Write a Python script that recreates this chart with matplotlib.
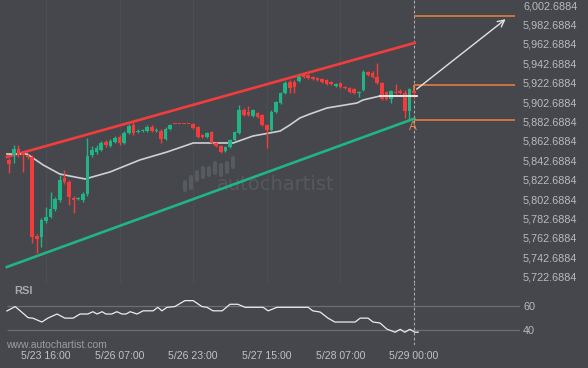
import matplotlib
matplotlib.use('Agg')
import matplotlib.pyplot as plt

plt.rcParams['font.family'] = ['Liberation Sans', 'DejaVu Sans']

# hourly candles, one per bar index
opens = [5843.0, 5848.1, 5854.3, 5850.2, 5848.1, 5846.1, 5764.6, 5763.6, 5780.1, 5784.2,
         5792.5, 5801.7, 5824.4, 5820.3, 5803.8, 5802.8, 5801.7, 5807.9, 5848.1, 5851.2,
         5853.3, 5861.5, 5857.4, 5861.5, 5866.7, 5860.5, 5870.8, 5879.0, 5871.8, 5872.9,
         5872.9, 5877.0, 5872.9, 5872.9, 5864.6, 5874.9, 5880.1, 5880.1, 5880.1, 5880.1,
         5880.1, 5877.0, 5868.7, 5866.7, 5871.8, 5860.5, 5857.4, 5852.3, 5856.4, 5863.6,
         5870.8, 5894.5, 5892.4, 5888.3, 5891.4, 5889.3, 5879.0, 5873.9, 5892.4, 5901.7,
         5912.0, 5923.4, 5923.4, 5924.4, 5930.6, 5930.6, 5928.5, 5927.5, 5926.4, 5925.4,
         5923.4, 5919.2, 5922.3, 5918.2, 5917.2, 5916.1, 5912.0, 5915.1, 5933.7, 5932.6,
         5928.5, 5922.3, 5913.0, 5905.8, 5913.0, 5914.0, 5912.0, 5893.5, 5914.0]
highs = [5845.0, 5858.4, 5858.4, 5852.3, 5849.2, 5848.1, 5766.7, 5783.2, 5794.5, 5810.0,
         5804.8, 5827.5, 5832.7, 5822.4, 5805.9, 5804.8, 5810.0, 5865.6, 5857.4, 5858.4,
         5862.5, 5863.6, 5864.6, 5867.7, 5868.7, 5872.9, 5880.1, 5882.1, 5874.9, 5874.9,
         5879.0, 5879.0, 5875.9, 5874.9, 5877.0, 5880.1, 5880.1, 5880.1, 5880.1, 5880.1,
         5881.1, 5878.0, 5869.8, 5871.8, 5872.9, 5861.5, 5858.4, 5857.4, 5864.6, 5872.9,
         5899.7, 5896.6, 5898.6, 5895.5, 5892.4, 5890.4, 5880.1, 5894.5, 5903.8, 5913.0,
         5924.4, 5925.4, 5925.4, 5930.6, 5931.6, 5931.6, 5929.5, 5928.5, 5927.5, 5926.4,
         5924.4, 5922.3, 5923.4, 5919.2, 5918.2, 5917.2, 5914.0, 5935.7, 5934.7, 5934.7,
         5942.9, 5923.4, 5914.0, 5915.1, 5921.3, 5916.1, 5915.1, 5917.2, 5915.1]
lows = [5829.6, 5839.9, 5846.1, 5830.6, 5844.0, 5757.4, 5747.1, 5753.3, 5778.0, 5783.2,
        5790.4, 5799.7, 5818.2, 5796.6, 5788.3, 5801.7, 5799.7, 5805.9, 5846.1, 5849.2,
        5852.3, 5856.4, 5856.4, 5860.5, 5858.4, 5859.5, 5869.8, 5868.7, 5870.8, 5871.8,
        5871.8, 5871.8, 5871.8, 5860.5, 5863.6, 5873.9, 5879.6, 5879.6, 5879.6, 5879.6,
        5874.9, 5865.6, 5865.6, 5865.6, 5859.5, 5856.4, 5850.2, 5851.2, 5855.3, 5862.5,
        5869.8, 5888.3, 5888.3, 5887.3, 5886.3, 5878.0, 5855.3, 5872.9, 5891.4, 5900.7,
        5911.0, 5912.0, 5912.0, 5923.4, 5927.5, 5926.4, 5925.4, 5924.4, 5922.3, 5920.3,
        5920.3, 5918.2, 5917.2, 5916.1, 5912.0, 5911.0, 5907.9, 5914.0, 5929.5, 5927.5,
        5921.3, 5904.8, 5904.8, 5901.7, 5911.0, 5911.0, 5886.3, 5884.2, 5906.9]
closes = [5838.8, 5854.3, 5848.1, 5848.1, 5846.1, 5763.6, 5761.5, 5781.1, 5784.2, 5792.5,
          5802.8, 5822.4, 5820.3, 5804.8, 5801.7, 5803.8, 5807.9, 5847.1, 5853.3, 5855.3,
          5860.5, 5858.4, 5862.5, 5865.6, 5860.5, 5870.8, 5878.0, 5870.8, 5872.9, 5873.9,
          5877.0, 5872.9, 5873.9, 5864.6, 5874.9, 5879.0, 5879.6, 5879.6, 5879.6, 5879.6,
          5875.9, 5866.7, 5866.7, 5870.8, 5860.5, 5857.4, 5851.2, 5856.4, 5863.6, 5871.8,
          5894.5, 5889.3, 5889.3, 5894.5, 5887.3, 5879.0, 5873.9, 5892.4, 5902.7, 5912.0,
          5922.3, 5917.2, 5918.2, 5928.5, 5928.5, 5927.5, 5926.4, 5925.4, 5923.4, 5921.3,
          5921.3, 5921.3, 5918.2, 5917.2, 5913.0, 5912.0, 5913.0, 5933.7, 5930.6, 5928.5,
          5922.3, 5905.8, 5905.8, 5914.0, 5912.0, 5912.0, 5893.5, 5916.1, 5912.0]

# moving average (bar position, price)
ma_pos = [-0.5, 3.9, 7.4, 11.0, 16.5, 21.9, 28.4, 34.3, 40.0, 48.7, 53.0, 58.9, 61.0,
          63.2, 65.4, 69.1, 75.6, 76.9, 80.6]
ma_vals = [5849.1, 5849.1, 5837.8, 5828.5, 5823.4, 5830.6, 5843.0, 5851.2, 5860.5, 5860.5,
           5867.7, 5872.8, 5879.0, 5886.3, 5890.4, 5896.6, 5901.7, 5904.8, 5908.9]
last_level = 5908.9

# channel
chan_x = [-0.5, 88.1]
chan_upper = [5846.1, 5963.6]
chan_lower = [5732.7, 5885.7]

# forecast
target_price = 5991.4
break_price = 5919.9
support_price = 5884.2
arrow_start = 5914.2
arrow_end_x = 108.4
level_end_x = 110.0
signal_x = 88.1

price_ticks = [5722.6884 + 20 * k for k in range(15)]
time_pos = [8, 24, 40, 56, 72, 88]
time_labels = ['5/23 16:00', '5/26 07:00', '5/26 23:00', '5/27 15:00', '5/28 07:00', '5/29 00:00']

rsi_pos = [-0.5, 1.3, 2.4, 4.1, 5.2, 7.1, 8.4, 10.4, 12.1, 13.9, 15.4, 17.1, 18.2, 19.1,
           20.2, 21.0, 22.3, 23.4, 24.5, 25.4, 26.3, 27.8, 29.1, 31.3, 32.3, 33.2, 34.3,
           36.0, 38.2, 40.0, 41.9, 43.0, 44.3, 46.3, 48.0, 49.7, 51.3, 55.2, 56.3, 58.2,
           65.0, 66.0, 67.6, 69.3, 70.8, 75.2, 76.3, 78.0, 79.1, 80.6, 82.1, 83.9, 85.0,
           86.0, 87.1, 88.2, 88.9]
rsi_vals = [55.9, 59.5, 56.0, 50.4, 49.9, 46.8, 50.0, 53.4, 50.0, 50.0, 53.4, 53.4, 55.3,
            53.4, 55.3, 53.4, 53.4, 55.3, 53.4, 53.4, 55.3, 53.4, 56.0, 56.0, 58.9, 56.0,
            58.9, 59.5, 64.4, 64.4, 59.5, 58.9, 56.0, 56.0, 61.4, 61.4, 58.9, 58.9, 56.0,
            58.9, 58.9, 56.0, 55.0, 50.0, 46.8, 46.8, 50.0, 50.0, 46.8, 46.0, 41.0, 38.4,
            40.8, 38.4, 40.8, 38.4, 38.4]
rsi_levels = [60, 40]

bg = '#45474c'
up_col = '#1fb585'
down_col = '#f33d3d'
orange = '#f0803c'
tick_col = '#b8babe'

fig = plt.figure(figsize=(5.88, 3.68), dpi=100, facecolor=bg)
ax = fig.add_axes([0, 1 - 283 / 368, 520 / 588, 283 / 368], facecolor=bg)
rax = fig.add_axes([0, 1 - 345 / 368, 520 / 588, 62 / 368], facecolor=bg)

for a in (ax, rax):
    a.set_xlim(-2, 111.04)
    for s in a.spines.values():
        s.set_visible(False)

ax.set_ylim(5716.2, 6007.86)
rax.set_ylim(27.9, 78.9)

# faint vertical grid
for p in time_pos:
    ax.axvline(p, color='#4b4e53', lw=0.8, zorder=0)

# watermark
wm_x = [185, 191, 197, 203, 209, 215, 221, 227, 233]
wm_top = [182, 177, 172, 168, 168, 163, 165, 163, 158]
wm_bot = [190, 188, 180, 177, 175, 173, 175, 172, 167]
for x, t, b in zip(wm_x, wm_top, wm_bot):
    ax.plot([x / 520, x / 520], [1 - t / 283, 1 - b / 283], transform=ax.transAxes,
            color='#575a5f', lw=3, solid_capstyle='round', zorder=1)
ax.text(217 / 520, 1 - 190 / 283, 'autochartist', transform=ax.transAxes, fontsize=14,
        color='#55585d', family='DejaVu Sans', va='baseline', zorder=1)

# channel lines
ax.plot(chan_x, chan_upper, color=down_col, lw=1.9, zorder=3)
ax.plot(chan_x, chan_lower, color=up_col, lw=1.9, zorder=3)

# moving average
ax.plot(ma_pos, ma_vals, color='#cfd0d2', lw=1.2, zorder=4)
ax.plot([ma_pos[-1], 88.6], [last_level, last_level], color='white', lw=1.2, zorder=6)

# candles
for i in range(len(opens)):
    o, h, l, c = opens[i], highs[i], lows[i], closes[i]
    col = up_col if c >= o else down_col
    ax.vlines(i, l, h, color=col, lw=1, zorder=5)
    ax.bar(i, max(abs(c - o), 1.0), bottom=min(o, c), width=0.78, color=col, zorder=5)

# forecast lines
ax.hlines([target_price, break_price, support_price], signal_x, level_end_x, color=orange, lw=1.1, zorder=6)
ax.vlines(signal_x, arrow_start, break_price, color=orange, lw=1.1, zorder=6)
ax.annotate('', xy=(arrow_end_x, target_price - 1.5), xytext=(signal_x, arrow_start),
            arrowprops=dict(arrowstyle='->', color='#e2e2e2', lw=1.0, mutation_scale=12), zorder=7)
ax.text(signal_x - 0.3, support_price - 7.5, 'A', color='#e8894e', fontsize=8.5, ha='center', va='center')

ax.axvline(signal_x, color='#a9abaf', lw=0.8, ls=(0, (2.5, 2)), zorder=2)
rax.axvline(signal_x, color='#a9abaf', lw=0.8, ls=(0, (2.5, 2)), zorder=2)

ax.yaxis.tick_right()
ax.set_yticks(price_ticks)
ax.set_yticklabels(['{:,.4f}'.format(v) for v in price_ticks])
ax.tick_params(axis='y', length=0, pad=2.2, labelsize=7.8, labelcolor=tick_col)
ax.set_xticks([])

# RSI panel
rax.hlines(rsi_levels, -0.5, 111.04, color='#6b6e73', lw=0.9, zorder=1)
rax.plot(rsi_pos, rsi_vals, color='#ececec', lw=0.9, zorder=3)
rax.yaxis.tick_right()
rax.set_yticks(rsi_levels)
rax.set_yticklabels([str(v) for v in rsi_levels])
rax.tick_params(axis='y', length=0, pad=2.2, labelsize=7.8, labelcolor=tick_col)
rax.set_xticks(time_pos)
rax.set_xticklabels(time_labels)
rax.tick_params(axis='x', length=0, pad=4.5, labelsize=7.6, labelcolor='#c0c2c6')

fig.text(14 / 588, 1 - 291 / 368, 'RSI', fontsize=8, fontweight='bold', color='#a6a9ae', va='center')
fig.text(6 / 588, 1 - 345 / 368, 'www.autochartist.com', fontsize=7.5, color='#9a9da2', va='center')

fig.savefig('out.png', dpi=100, facecolor=bg)
